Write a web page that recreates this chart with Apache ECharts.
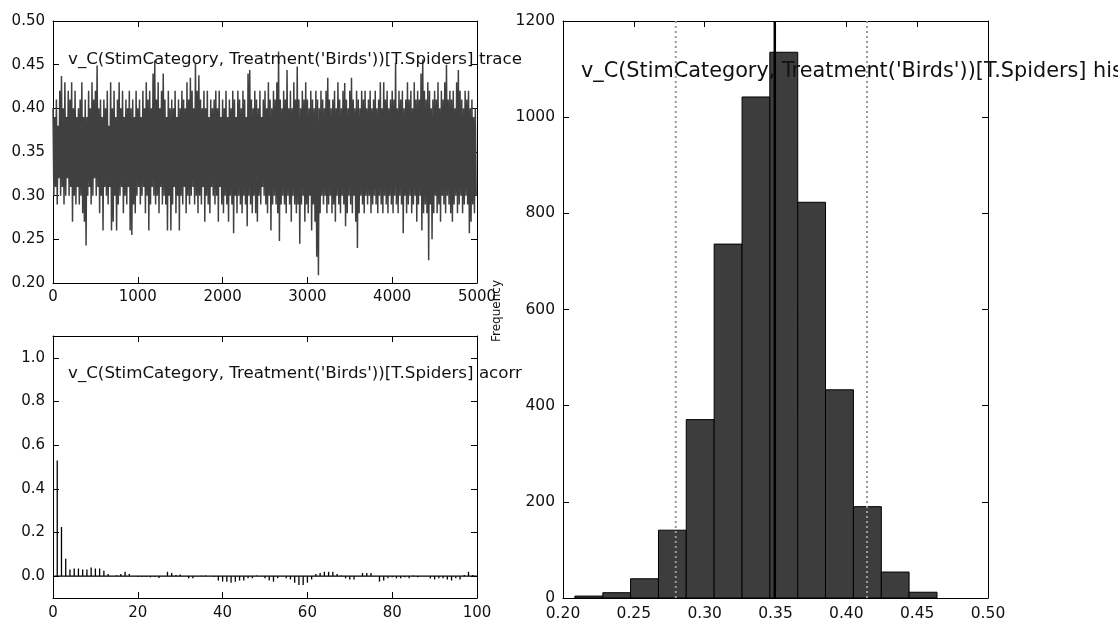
<!DOCTYPE html>
<html>
<head>
<meta charset="utf-8">
<script src="https://cdn.jsdelivr.net/npm/echarts@6/dist/echarts.min.js"></script>
<style>
  html, body { margin: 0; padding: 0; background: #fff; }
  #chart { width: 1118px; height: 628px; }
</style>
</head>
<body>
<div id="chart"></div>
<script>
// Posterior summary plots for one model parameter: trace, autocorrelation and histogram.
const paramName = "v_C(StimCategory, Treatment('Birds'))[T.Spiders]";

// Thinned MCMC trace (one value every traceStep iterations).
const traceStep = 10;
const traceSamples = [
  0.40,0.30,0.39,0.31,0.41,0.29,0.38,0.32,0.42,0.30,
  0.437,0.31,0.40,0.29,0.43,0.30,0.39,0.32,0.42,0.30,
  0.41,0.31,0.43,0.27,0.40,0.30,0.42,0.29,0.39,0.31,
  0.40,0.29,0.41,0.30,0.43,0.28,0.39,0.27,0.41,0.243,
  0.39,0.30,0.42,0.31,0.40,0.29,0.43,0.30,0.41,0.32,
  0.42,0.30,0.449,0.31,0.40,0.28,0.41,0.30,0.39,0.26,
  0.41,0.31,0.40,0.30,0.42,0.29,0.38,0.31,0.43,0.26,
  0.40,0.27,0.42,0.30,0.39,0.26,0.41,0.29,0.43,0.30,
  0.40,0.31,0.42,0.28,0.39,0.30,0.41,0.29,0.40,0.31,
  0.42,0.26,0.40,0.255,0.41,0.29,0.39,0.28,0.42,0.30,
  0.40,0.31,0.41,0.29,0.39,0.30,0.42,0.31,0.40,0.28,
  0.43,0.30,0.41,0.26,0.42,0.29,0.40,0.31,0.44,0.30,
  0.455,0.29,0.41,0.30,0.43,0.28,0.40,0.31,0.42,0.29,
  0.44,0.30,0.41,0.29,0.39,0.26,0.42,0.30,0.40,0.26,
  0.41,0.29,0.40,0.31,0.42,0.28,0.39,0.30,0.41,0.26,
  0.40,0.30,0.42,0.29,0.41,0.31,0.40,0.28,0.43,0.30,
  0.41,0.29,0.435,0.30,0.42,0.31,0.40,0.29,0.452,0.30,
  0.42,0.28,0.438,0.30,0.41,0.29,0.40,0.31,0.42,0.27,
  0.40,0.30,0.42,0.29,0.39,0.28,0.41,0.31,0.40,0.30,
  0.41,0.29,0.42,0.30,0.40,0.27,0.42,0.31,0.39,0.29,
  0.41,0.28,0.40,0.30,0.42,0.29,0.39,0.27,0.41,0.30,
  0.40,0.29,0.42,0.257,0.41,0.30,0.39,0.28,0.42,0.30,
  0.41,0.29,0.40,0.28,0.42,0.30,0.41,0.29,0.39,0.265,
  0.44,0.30,0.444,0.29,0.41,0.28,0.40,0.30,0.42,0.28,
  0.41,0.27,0.40,0.30,0.42,0.29,0.39,0.31,0.41,0.30,
  0.42,0.29,0.40,0.28,0.43,0.30,0.41,0.26,0.40,0.29,
  0.42,0.30,0.41,0.29,0.43,0.28,0.465,0.248,0.41,0.29,
  0.40,0.30,0.42,0.29,0.41,0.28,0.444,0.30,0.40,0.29,
  0.42,0.27,0.40,0.30,0.43,0.29,0.41,0.28,0.448,0.29,
  0.41,0.245,0.40,0.29,0.42,0.30,0.41,0.27,0.43,0.29,
  0.41,0.28,0.40,0.30,0.42,0.26,0.41,0.29,0.40,0.27,
  0.42,0.23,0.41,0.209,0.40,0.28,0.42,0.30,0.41,0.29,
  0.40,0.30,0.42,0.28,0.435,0.29,0.41,0.30,0.40,0.28,
  0.41,0.29,0.42,0.27,0.40,0.30,0.43,0.29,0.41,0.28,
  0.40,0.30,0.42,0.29,0.429,0.265,0.41,0.28,0.40,0.30,
  0.42,0.29,0.435,0.28,0.41,0.30,0.40,0.27,0.42,0.24,
  0.41,0.28,0.40,0.30,0.42,0.29,0.41,0.28,0.42,0.30,
  0.40,0.29,0.41,0.30,0.42,0.28,0.40,0.29,0.41,0.30,
  0.42,0.29,0.40,0.28,0.41,0.30,0.43,0.29,0.40,0.28,
  0.43,0.30,0.41,0.29,0.42,0.28,0.40,0.30,0.41,0.29,
  0.42,0.28,0.41,0.30,0.452,0.29,0.40,0.28,0.42,0.30,
  0.41,0.29,0.42,0.257,0.40,0.30,0.41,0.28,0.43,0.29,
  0.41,0.30,0.42,0.28,0.40,0.29,0.43,0.30,0.41,0.27,
  0.42,0.29,0.41,0.30,0.44,0.26,0.456,0.28,0.42,0.29,
  0.41,0.28,0.43,0.226,0.42,0.29,0.40,0.25,0.41,0.28,
  0.42,0.30,0.41,0.28,0.43,0.29,0.40,0.27,0.42,0.30,
  0.41,0.29,0.43,0.28,0.45,0.30,0.41,0.29,0.42,0.28,
  0.41,0.27,0.42,0.29,0.40,0.30,0.43,0.28,0.444,0.29,
  0.42,0.30,0.41,0.28,0.40,0.29,0.42,0.30,0.41,0.29,
  0.42,0.257,0.40,0.27,0.41,0.29,0.39,0.28,0.40,0.30
];

// Autocorrelation for lags 0..100.
const acorrValues = [
  1.0, 0.53, 0.225, 0.08, 0.03, 0.035, 0.035, 0.03, 0.03, 0.04,
  0.035, 0.035, 0.025, 0.01, 0.0, 0.004, 0.01, 0.02, 0.01, 0.0,
  -0.004, -0.004, -0.004, -0.005, -0.004, -0.008, 0.0, 0.02, 0.014, 0.005,
  0.008, 0.0, -0.01, -0.01, 0.0, 0.002, 0.003, 0.0, -0.004, -0.02,
  -0.025, -0.025, -0.03, -0.025, -0.02, -0.02, -0.01, -0.01, 0.003, 0.0,
  -0.01, -0.02, -0.025, -0.01, 0.0, -0.01, -0.015, -0.03, -0.04, -0.04,
  -0.03, -0.015, 0.01, 0.015, 0.02, 0.02, 0.02, 0.01, 0.003, -0.01,
  -0.015, -0.015, 0.0, 0.015, 0.015, 0.015, 0.0, -0.025, -0.02, -0.01,
  -0.005, -0.01, -0.01, -0.005, -0.01, 0.003, -0.005, 0.0, 0.0, -0.01,
  -0.015, -0.01, -0.01, -0.015, -0.02, -0.01, -0.015, 0.005, 0.02, 0.005,
  0.0
];

// Histogram of the posterior samples.
const histEdges = [0.2084, 0.2281, 0.2477, 0.2674, 0.2870, 0.3067, 0.3264,
                   0.3460, 0.3657, 0.3853, 0.4050, 0.4247, 0.4443, 0.4640];
const histCounts = [4, 11, 40, 141, 371, 736, 1042, 1135, 823, 433, 190, 54, 12];
const posteriorMean = 0.3495;
const hpdBounds = [0.2796, 0.4146];

// Tick positions.
const traceYTicks = [0.20, 0.25, 0.30, 0.35, 0.40, 0.45, 0.50];
const traceXTicks = [0, 1000, 2000, 3000, 4000, 5000];
const acorrYTicks = [0.0, 0.2, 0.4, 0.6, 0.8, 1.0];
const acorrXTicks = [0, 20, 40, 60, 80, 100];
const histXTicks = [0.20, 0.25, 0.30, 0.35, 0.40, 0.45, 0.50];
const histYTicks = [0, 200, 400, 600, 800, 1000, 1200];

const FONT = 'DejaVu Sans';
const INK = '#111';

const traceData = traceSamples.map((v, i) => [i * traceStep, v]);
const acorrData = acorrValues.map((v, lag) => [lag, v]);
const histData = histCounts.map((c, i) => [histEdges[i], histEdges[i + 1], c]);

// Each panel gets a labelled bottom/left axis and a bare top/right mirror,
// both with inward ticks, so the frame is closed on all four sides.
function axisPair(grid, dim, min, max, ticks, labelFmt, labelSize, labelMargin, tickLen) {
  const common = {
    type: 'value', gridIndex: grid, min: min, max: max,
    splitLine: { show: false },
    axisLine: { show: true, onZero: false, lineStyle: { color: '#000', width: 1 } },
    axisTick: { show: true, inside: true, length: tickLen, customValues: ticks,
                lineStyle: { color: '#000', width: 1 } }
  };
  const main = Object.assign({}, common, {
    position: dim === 'x' ? 'bottom' : 'left',
    axisLabel: { show: true, customValues: ticks, formatter: labelFmt,
                 fontFamily: FONT, fontSize: labelSize, color: INK, margin: labelMargin }
  });
  const mirror = Object.assign({}, common, {
    position: dim === 'x' ? 'top' : 'right',
    axisLabel: { show: false }
  });
  return [main, mirror];
}

const xAxes = [
  ...axisPair(0, 'x', 0, 5000, traceXTicks, v => String(Math.round(v)), 15, 7, 6),
  ...axisPair(1, 'x', 0, 100, acorrXTicks, v => String(Math.round(v)), 15, 8, 6),
  ...axisPair(2, 'x', 0.2, 0.5, histXTicks, v => v.toFixed(2), 15.5, 8, 6)
];
const yAxes = [
  ...axisPair(0, 'y', 0.2, 0.5, traceYTicks, v => v.toFixed(2), 15, 8, 6),
  ...axisPair(1, 'y', -0.1, 1.1, acorrYTicks, v => v.toFixed(1), 15, 8, 6),
  ...axisPair(2, 'y', 0, 1200, histYTicks, v => String(Math.round(v)), 15.5, 8, 6)
];

const chart = echarts.init(document.getElementById('chart'), null, { renderer: 'canvas' });

chart.setOption({
  animation: false,
  backgroundColor: '#fff',
  grid: [
    { left: 53, top: 21, width: 424, height: 262 },
    { left: 53, top: 336, width: 424, height: 262 },
    { left: 563, top: 21, width: 425, height: 577 }
  ],
  xAxis: xAxes,
  yAxis: yAxes,
  series: [
    {
      name: 'trace', type: 'line', xAxisIndex: 0, yAxisIndex: 0,
      data: traceData, showSymbol: false, symbol: 'none', clip: true,
      lineStyle: { color: '#404040', width: 1.5 }, z: 2
    },
    {
      name: 'acorr', type: 'custom', xAxisIndex: 2, yAxisIndex: 2,
      data: acorrData, clip: true,
      renderItem: function (params, api) {
        const p0 = api.coord([api.value(0), 0]);
        const p1 = api.coord([api.value(0), api.value(1)]);
        return { type: 'line', shape: { x1: p0[0], y1: p0[1], x2: p1[0], y2: p1[1] },
                 style: { stroke: '#000', lineWidth: 1.3 } };
      }
    },
    {
      name: 'acorr-zero', type: 'line', xAxisIndex: 2, yAxisIndex: 2,
      data: [[0, 0], [100, 0]], showSymbol: false, symbol: 'none',
      lineStyle: { color: '#000', width: 1.3 }
    },
    {
      name: 'hist', type: 'custom', xAxisIndex: 4, yAxisIndex: 4,
      data: histData, clip: true,
      renderItem: function (params, api) {
        const a = api.coord([api.value(0), api.value(2)]);
        const b = api.coord([api.value(1), 0]);
        return { type: 'rect',
                 shape: { x: a[0], y: a[1], width: b[0] - a[0], height: b[1] - a[1] },
                 style: { fill: '#3d3d3d', stroke: '#000', lineWidth: 1 } };
      }
    },
    {
      name: 'hpd-low', type: 'line', xAxisIndex: 4, yAxisIndex: 4,
      data: [[hpdBounds[0], 0], [hpdBounds[0], 1200]], showSymbol: false, symbol: 'none',
      lineStyle: { color: '#9a9a9a', width: 2, type: [2, 3] }, z: 3
    },
    {
      name: 'hpd-high', type: 'line', xAxisIndex: 4, yAxisIndex: 4,
      data: [[hpdBounds[1], 0], [hpdBounds[1], 1200]], showSymbol: false, symbol: 'none',
      lineStyle: { color: '#9a9a9a', width: 2, type: [2, 3] }, z: 3
    },
    {
      name: 'mean', type: 'line', xAxisIndex: 4, yAxisIndex: 4,
      data: [[posteriorMean, 0], [posteriorMean, 1200]], showSymbol: false, symbol: 'none',
      lineStyle: { color: '#000', width: 2.5 }, z: 4
    }
  ],
  graphic: [
    { type: 'text', x: 68, y: 59.5, z: 100,
      style: { text: paramName + ' trace', font: '16.7px "DejaVu Sans"', fill: INK,
               verticalAlign: 'middle' } },
    { type: 'text', x: 68, y: 374, z: 100,
      style: { text: paramName + ' acorr', font: '16.7px "DejaVu Sans"', fill: INK,
               verticalAlign: 'middle' } },
    { type: 'text', x: 581, y: 72, z: 100,
      style: { text: paramName + ' hist', font: '20.8px "DejaVu Sans"', fill: INK,
               verticalAlign: 'middle' } },
    { type: 'text', x: 497, y: 311, z: 100, rotation: Math.PI / 2,
      style: { text: 'Frequency', font: '12px "DejaVu Sans"', fill: INK,
               align: 'center', verticalAlign: 'middle' } }
  ]
});
</script>
</body>
</html>
